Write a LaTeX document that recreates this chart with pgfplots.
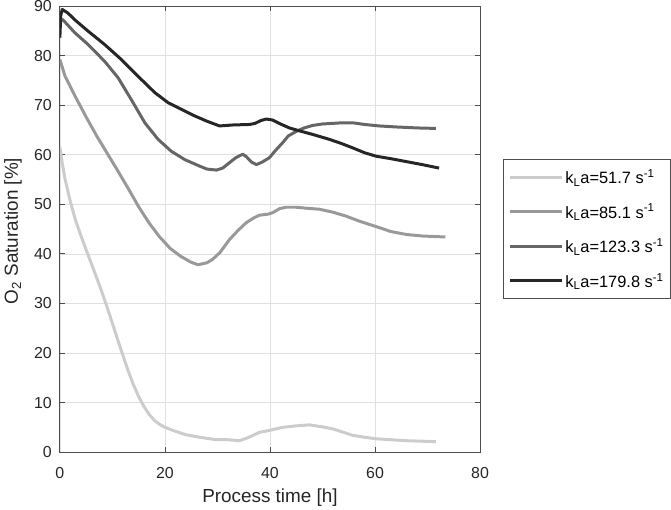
\documentclass[border=0pt]{standalone}
\usepackage{fontspec}
\setmainfont{Liberation Sans}
\usepackage{pgfplots}
\pgfplotsset{compat=1.18}
\definecolor{cA}{HTML}{CCCCCC}
\definecolor{cB}{HTML}{999999}
\definecolor{cC}{HTML}{666666}
\definecolor{cD}{HTML}{262626}
\definecolor{axc}{HTML}{4D4D4D}
\begin{document}
\begin{tikzpicture}
\path (-60bp,-56bp) rectangle (611bp,453bp);
\begin{axis}[
  at={(0,0)}, anchor=south west,
  scale only axis, width=421bp, height=447bp,
  xmin=0, xmax=80, ymin=0, ymax=90,
  xtick={0,20,40,60,80}, ytick={0,10,...,90},
  xtick pos=both, ytick pos=both,
  tick align=inside, major tick length=5bp,
  grid=major, major grid style={color=black!12, line width=0.5bp},
  axis line style={color=axc, line width=0.8bp},
  tick style={color=axc, line width=0.8bp},
  /pgf/number format/assume math mode=true,
  ticklabel style={font=\fontsize{16}{16}\selectfont, color=black!85},
  xticklabel style={anchor=base, yshift=-26bp, inner sep=0pt},
  yticklabel style={anchor=east, xshift=-8bp, inner sep=0pt},
  xlabel={Process time [h]},
  ylabel={O\textsubscript{2} Saturation [\%]},
  label style={font=\fontsize{19}{19}\selectfont, color=black!85},
  xlabel style={at={(axis description cs:0.5,0)}, anchor=base, yshift=-50bp},
  ylabel style={at={(axis description cs:0,0.5)}, anchor=center, yshift=47bp, xshift=-2bp},
  legend style={at={(axis description cs:1,0.5)}, anchor=west, xshift=23bp,
    draw=axc, line width=0.8bp, font=\fontsize{16.5}{16.5}\selectfont,
    row sep=15bp, inner xsep=5bp, inner ysep=8bp},
  legend cell align=left,
  legend image code/.code={\draw[#1] (0bp,0bp) -- (52bp,0bp);},
  every axis plot/.append style={line width=3bp, line join=round},
]
\addplot[cA] coordinates {
(0,61.5) (0.5,58) (1,55) (2,50.5) (3,46.7) (4,43.7) (5,40.8) (6,38) (7,35.2) (8,32.3)
(9,29.2) (10,26) (11,22.7) (12,19.5) (13,16.4) (14,13.6) (15,11.2) (16,9.2) (17,7.6)
(18,6.4) (19,5.6) (20,5.0) (22,4.2)
(24,3.5) (26.6,3.0) (29.8,2.5) (32,2.5) (34.2,2.3) (36,3.0) (38,4.0) (40,4.4)
(42.4,5.0) (45,5.3) (47.5,5.5) (50,5.1) (51.9,4.7) (54,4.0) (55.7,3.4) (58,3.0)
(60.2,2.7) (63,2.5) (66,2.3) (69,2.2) (71.6,2.1)
};
\addlegendentry{k\textsubscript{L}a=51.7 s\textsuperscript{-1}}
\addplot[cB] coordinates {
(0,79.2) (1,75.8) (3,71.6) (5,67.6) (7,63.8) (9,60.3) (11,56.8) (13,53.2) (15,49.5)
(17,46.2) (19,43.4) (21,41.1) (23,39.5) (25,38.3) (26.3,37.8) (28,38.2) (29.1,38.9) (30.5,40.3)
(32.3,42.9) (34,44.8) (35.5,46.3) (37,47.3) (38,47.8) (39.6,48) (40.5,48.3) (41.8,49.1)
(43,49.4) (45,49.4) (47,49.2) (49.4,49) (52,48.4) (54.5,47.6) (57,46.6) (60.8,45.3)
(63,44.5) (66,43.9) (69,43.6) (73.4,43.4)
};
\addlegendentry{k\textsubscript{L}a=85.1 s\textsuperscript{-1}}
\addplot[cC] coordinates {
(0,86.9) (0.5,87.3) (2.85,84.6) (5.4,82.2) (8.55,78.8) (11.1,75.5) (13.6,71.1) (16.2,66.4)
(18.7,63.1) (21.2,60.7) (23.8,59.0) (26.6,57.7) (28,57.1) (29.8,56.9) (31,57.3) (32.3,58.4)
(33.5,59.4) (34.8,60.1) (35.5,59.6) (36.5,58.5) (37.4,58.0) (38.5,58.5) (39.9,59.4)
(41,60.8) (42.4,62.4) (43.5,63.8) (45,64.7) (46.5,65.4) (48.1,65.9) (50,66.2) (53.2,66.4)
(56,66.4) (58,66.1) (60.8,65.8) (64,65.6) (68,65.4) (71.6,65.3)
};
\addlegendentry{k\textsubscript{L}a=123.3 s\textsuperscript{-1}}
\addplot[cD] coordinates {
(0,83.6) (0.15,88) (0.45,89.3) (1.5,88.6) (2.85,87.2) (5.4,84.9) (8.55,82.2) (11.7,79.2)
(14.9,75.8) (18.1,72.5) (20.6,70.5) (23.8,68.8) (25.5,67.9) (27.9,66.8) (30.4,65.8)
(33,66) (36.1,66.1) (37.1,66.3) (38.3,66.9) (39.3,67.2) (40.5,67) (42,66.2) (43.7,65.4)
(46,64.7) (48.1,64.1) (51.3,63.1) (53.5,62.3) (55.7,61.4) (58,60.4) (60.2,59.7)
(63,59.2) (66,58.6) (69,58) (72.2,57.3)
};
\addlegendentry{k\textsubscript{L}a=179.8 s\textsuperscript{-1}}
\end{axis}
\end{tikzpicture}
\end{document}
